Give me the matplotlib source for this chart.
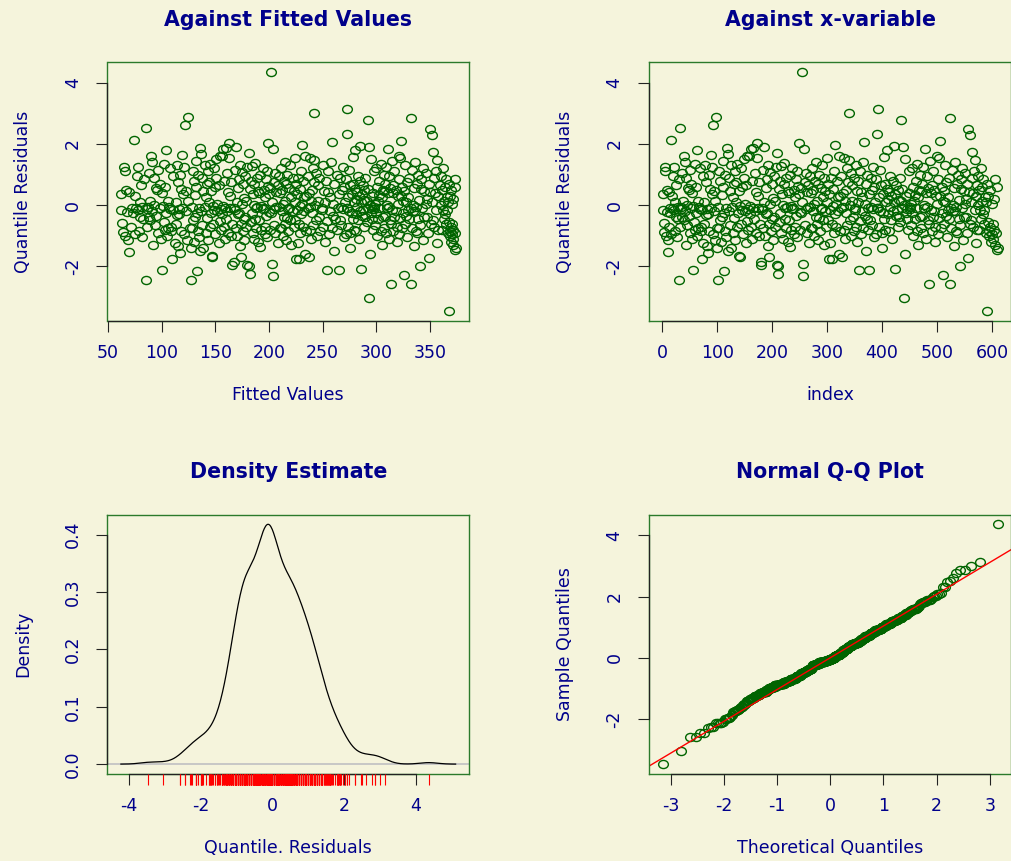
import matplotlib
matplotlib.use("Agg")
import matplotlib.pyplot as plt
import matplotlib.transforms as mtransforms
import numpy as np
from matplotlib.path import Path
from statistics import NormalDist

plt.rcParams["font.family"] = "DejaVu Sans"
plt.rcParams["axes.unicode_minus"] = False

BG = "#f5f4dc"
NAVY = "#00008b"
GREEN = "#006400"
BOX = "#2b7a2b"
TICK = "#222222"

# normalized quantile residuals, in observation order
resid = np.array([
    0.37, -0.15, -0.58, -0.89, 1.26, 1.12, -1.02, 0.48, -0.22, -1.13,
    -1.53, 0.42, -0.72, -0.08, -0.25, 2.13, -0.95, 0.30, -0.10, 0.95,
    -0.15, 1.25, -0.85, 0.10, -0.40, 0.65, -1.05, -0.06, -0.45, 0.85,
    -2.44, 2.51, -0.70, -0.12, -0.05, 1.05, -0.38, 0.12, -0.50, 1.60,
    -0.20, 1.40, -1.30, 0.90, 0.00, -0.65, 0.55, -0.35, 0.50, -0.90,
    1.15, -0.10, 0.70, -1.10, 0.38, -2.13, -0.02, -0.55, 1.35, -0.80,
    0.60, -0.25, 1.80, -1.00, 0.15, -0.75, -0.06, -0.12, 1.20, -0.85,
    -0.70, -1.76, -0.15, 0.95, -1.25, 0.10, -0.60, 1.30, -0.32, 0.75,
    -1.35, -0.14, -0.30, -1.55, 1.00, -0.85, 0.52, 1.65, -0.08, 0.35,
    1.25, -0.95, 2.60, -0.20, 0.45, -1.15, 0.12, 2.87, -0.75, -1.40,
    -2.44, -0.06, -0.75, 1.10, -0.48, 0.80, -1.20, 0.32, -0.40, 1.45,
    0.60, -2.14, -0.25, 1.00, -0.85, -0.10, -1.05, 1.85, -1.50, 1.66,
    -0.20, 0.90, -0.65, 0.46, -1.40, 1.30, -0.05, 0.28, -0.90, 0.70,
    -0.42, 1.10, -1.15, 0.10, 0.75, -0.70, 1.35, -0.25, 0.45, -1.65,
    -1.68, -0.04, -0.60, 1.20, -0.15, 0.58, -0.95, 0.90, 1.50, -0.20,
    0.05, -1.25, 0.65, -0.52, 1.60, -0.12, -0.80, 1.62, -0.30, -0.02,
    1.83, -0.70, 0.80, -1.10, -0.10, 1.88, -0.45, 1.05, -0.20, 0.44,
    -0.90, 2.02, 1.55, -0.08, 0.30, -1.00, 0.75, -0.60, -1.95, -1.86,
    -0.08, -0.15, 1.15, -0.75, 1.89, 0.10, -1.00, 0.55, -0.28, 0.85,
    -0.25, 1.30, -1.35, -1.70, -0.60, 1.07, 0.05, -0.85, 0.70, -0.44,
    0.22, -1.15, 0.95, -0.40, 0.15, -0.70, 1.25, -1.97, 1.69, -2.00,
    -2.25, 0.52, -0.55, 0.80, -0.25, 1.29, -0.90, 0.35, 0.00, -1.10,
    0.70, 1.38, -0.46, -0.08, -0.75, 0.90, -0.05, 0.45, -1.20, 0.40,
    -0.50, 1.00, -1.38, -0.02, -0.80, -0.14, 1.20, -0.10, 0.50, -0.95,
    0.25, -0.70, 0.85, -0.36, 1.10, -1.05, 0.62, 2.02, 0.35, -0.22,
    -0.80, 0.55, -0.25, 4.36, 0.10, -1.92, -2.30, 1.83, -0.65, 0.75,
    -0.12, 1.05, -0.90, 0.44, -0.05, 0.65, -1.25, -0.06, 0.95, -0.75,
    0.38, -0.75, 1.20, -0.20, 0.50, -1.00, 0.05, 0.80, -0.40, 1.40,
    -0.60, 0.15, -1.15, 0.70, -0.42, 1.00, -0.85, -0.12, 0.56, -0.10,
    1.30, -0.50, 0.25, -1.30, 0.90, -0.20, 0.46, -0.70, 0.10, 1.55,
    -0.48, 0.70, -1.76, 0.35, -0.15, -1.25, 0.90, -0.60, -1.75, -0.04,
    0.52, -0.90, 1.10, -0.30, 1.97, 0.05, -0.70, 0.80, -0.20, 0.25,
    1.61, -1.59, 0.30, -0.85, 0.95, -0.10, -1.70, 0.38, -0.05, 1.53,
    -0.80, 0.15, -1.10, 0.48, -0.25, 1.20, -0.65, 0.75, 1.48, 3.00,
    0.00, -0.50, 1.05, -1.00, 0.12, 0.65, -0.38, 0.90, -0.85, -0.10,
    -0.15, 1.30, -0.70, 0.45, -1.20, 0.10, 0.80, -2.13, -0.52, 1.10,
    0.42, -0.95, 0.25, -0.20, 1.40, -0.75, 2.07, 0.05, -0.35, -1.51,
    0.70, -0.44, 1.00, -0.80, -0.08, -2.13, 0.36, -0.50, 0.90, -0.05,
    -0.65, 0.50, 1.25, -0.12, 0.60, -1.05, 0.10, 0.85, -0.95, 2.32,
    -0.10, -0.10, 3.13, -0.70, 0.25, 1.15, -0.20, 0.65, -0.90, -1.40,
    0.35, -0.25, 1.58, -0.46, 0.70, -0.80, 0.10, 0.54, 1.80, -0.30,
    0.20, -0.85, 0.44, -0.05, 0.95, -0.50, 0.30, -1.10, 0.80, -0.18,
    1.93, 0.10, -2.08, 0.36, -0.35, 0.65, -0.15, 0.48, -0.70, 0.18,
    -0.40, 0.90, -0.55, 0.15, 2.78, -0.10, 0.52, 1.89, -3.04, 0.00,
    -1.59, 1.50, -0.25, 0.30, -0.45, -0.12, -0.80, 0.40, 1.10, -0.05,
    -0.14, -0.65, 0.05, 1.20, -0.25, 0.60, -1.00, 0.15, -0.45, 0.34,
    0.80, -0.10, 1.35, -0.85, 0.25, -1.30, 0.50, -0.40, 1.00, -0.75,
    0.46, -0.35, 0.70, -0.90, 1.25, 0.00, -0.10, 1.83, 0.40, -1.10,
    -0.05, 0.95, -0.48, 0.55, -2.57, -0.60, 1.45, -0.15, 0.38, -0.85,
    0.65, -0.40, 1.10, -0.20, 0.50, -0.70, -1.19, 0.30, 0.05, 1.59,
    -0.95, 0.85, 1.53, -0.42, 0.30, 2.08, -0.75, 0.60, -0.25, 0.15,
    -2.27, 0.46, -0.60, 1.30, 0.10, -0.36, 0.75, -1.05, 0.25, -0.15,
    0.90, -0.45, -2.57, 2.86, -0.10, -0.75, 1.15, 0.00, -0.20, -1.33,
    0.55, -0.20, 1.40, -0.85, -0.06, 0.70, -0.90, 1.00, -0.44, 0.18,
    -0.65, -2.00, 0.52, 0.85, -0.08, 1.20, -1.15, 0.45, -0.38, 0.05,
    1.05, -0.40, 0.20, -0.90, 0.70, -1.73, 2.48, 0.44, -0.60, 2.30,
    0.10, -0.50, 1.75, 0.90, -0.70, 0.38, 1.10, -0.15, 1.48, -1.24,
    0.30, -0.80, 0.65, 0.00, 0.95, -0.80, 0.48, -0.15, 1.20, -0.45,
    0.15, 0.60, -0.30, 0.85, -0.60, -0.16, 0.25, -0.90, 0.10, 0.70,
    -3.47, -0.55, 0.30, -0.85, -1.00, 0.50, -0.70, -1.20, 0.05, -0.95,
    -0.60, -1.10, 0.20, -0.80, -1.30, 0.86, -0.90, 0.58, -1.46, -1.40,
])

# fitted values of the model, same order
fitted = np.array([
    62, 62, 63, 64, 65, 66, 66, 67, 68, 69,
    70, 70, 71, 72, 73, 74, 75, 75, 76, 77,
    78, 78, 79, 80, 80, 81, 82, 82, 83, 84,
    85, 85, 86, 86, 87, 88, 88, 89, 89, 90,
    91, 91, 92, 93, 93, 94, 95, 95, 96, 97,
    97, 98, 98, 99, 100, 100, 101, 102, 102, 103,
    103, 104, 104, 105, 106, 106, 107, 108, 108, 109,
    109, 110, 111, 111, 112, 113, 113, 114, 114, 115,
    115, 116, 116, 117, 117, 118, 118, 119, 119, 120,
    121, 121, 122, 123, 123, 124, 125, 125, 126, 127,
    127, 128, 128, 129, 129, 130, 130, 131, 131, 132,
    132, 133, 133, 134, 134, 135, 135, 136, 136, 137,
    137, 138, 138, 139, 139, 140, 140, 141, 141, 142,
    142, 143, 143, 144, 144, 145, 145, 146, 146, 147,
    147, 148, 148, 149, 149, 150, 150, 151, 151, 152,
    152, 153, 153, 154, 154, 155, 155, 156, 156, 157,
    157, 158, 158, 159, 159, 160, 160, 161, 161, 162,
    162, 163, 163, 164, 164, 165, 165, 166, 166, 167,
    167, 168, 168, 169, 169, 170, 170, 171, 171, 172,
    172, 173, 173, 174, 174, 175, 175, 176, 176, 177,
    177, 177, 178, 178, 179, 179, 180, 180, 181, 181,
    182, 182, 183, 183, 184, 184, 185, 185, 186, 186,
    186, 187, 187, 188, 188, 189, 189, 190, 190, 191,
    191, 192, 192, 193, 193, 194, 194, 195, 195, 196,
    196, 196, 197, 197, 198, 198, 199, 199, 200, 200,
    201, 201, 202, 202, 203, 203, 204, 204, 205, 205,
    205, 206, 206, 207, 207, 208, 208, 209, 209, 210,
    210, 211, 211, 212, 212, 213, 213, 214, 214, 215,
    215, 215, 216, 216, 217, 217, 218, 218, 219, 219,
    220, 220, 221, 221, 222, 222, 223, 223, 224, 224,
    224, 225, 225, 226, 226, 227, 227, 228, 228, 229,
    229, 229, 230, 230, 231, 231, 232, 232, 233, 233,
    234, 234, 235, 235, 236, 236, 237, 237, 238, 238,
    238, 239, 239, 240, 240, 241, 241, 242, 242, 242,
    243, 244, 244, 245, 246, 246, 247, 247, 248, 249,
    249, 250, 250, 251, 252, 252, 253, 254, 254, 255,
    255, 256, 257, 257, 258, 259, 259, 260, 260, 261,
    261, 262, 263, 263, 264, 265, 265, 266, 266, 267,
    267, 268, 269, 269, 270, 270, 271, 272, 272, 273,
    273, 273, 273, 274, 274, 275, 275, 276, 276, 276,
    277, 277, 278, 278, 278, 279, 279, 280, 280, 281,
    281, 281, 282, 282, 283, 283, 284, 284, 285, 285,
    285, 286, 286, 287, 287, 288, 288, 289, 289, 289,
    290, 290, 291, 291, 292, 292, 292, 293, 293, 294,
    294, 295, 295, 296, 296, 296, 297, 297, 298, 298,
    298, 299, 299, 300, 300, 301, 301, 302, 302, 303,
    303, 303, 304, 304, 305, 305, 306, 306, 307, 307,
    307, 308, 308, 309, 309, 310, 310, 311, 311, 312,
    312, 312, 313, 313, 314, 314, 315, 315, 316, 316,
    316, 317, 317, 318, 318, 319, 319, 320, 320, 321,
    321, 321, 322, 322, 323, 323, 324, 324, 325, 325,
    326, 326, 327, 327, 328, 328, 329, 329, 330, 330,
    331, 331, 332, 332, 332, 333, 333, 334, 334, 335,
    335, 336, 336, 337, 337, 338, 338, 339, 339, 340,
    341, 341, 342, 342, 343, 344, 344, 345, 345, 346,
    346, 347, 347, 348, 349, 349, 350, 350, 351, 352,
    352, 353, 353, 354, 354, 355, 356, 356, 357, 357,
    358, 358, 359, 360, 360, 361, 361, 362, 362, 363,
    363, 364, 364, 365, 365, 366, 366, 367, 367, 368,
    368, 368, 369, 369, 369, 370, 370, 370, 371, 371,
    371, 372, 372, 372, 372, 373, 373, 373, 373, 374,
], dtype=float)

index = np.arange(1, len(resid) + 1)
n = len(resid)

# open circle marker, a bit wider than tall
_circ = Path.unit_circle()
ring = Path(_circ.vertices * [1.2, 1.0], _circ.codes)


def rlim(v):
    lo, hi = np.min(v), np.max(v)
    d = 0.04 * (hi - lo)
    return lo - d, hi + d


def decorate(ax, title, xlabel, ylabel, xticks, yticks, ylabels=None):
    ax.set_facecolor(BG)
    for sp in ax.spines.values():
        sp.set_color(BOX)
        sp.set_linewidth(1.0)
    ax.set_xticks(xticks)
    ax.set_yticks(yticks)
    if ylabels is not None:
        ax.set_yticklabels(ylabels)
    ax.tick_params(length=8, width=0.8, color=TICK, labelcolor=NAVY, labelsize=12.5)
    ax.tick_params(axis="x", pad=8.5)
    ax.tick_params(axis="y", pad=10.5, labelrotation=90)
    for lab in ax.get_yticklabels():
        lab.set_va("center")
    ax.text(0.5, 1.14, title, transform=ax.transAxes, ha="center", va="baseline",
            fontsize=14.8, fontweight="bold", color=NAVY)
    ax.set_xlabel(xlabel, color=NAVY, fontsize=12.5, va="baseline")
    ax.set_ylabel(ylabel, color=NAVY, fontsize=12.5, va="baseline")
    ax.xaxis.set_label_coords(0.5, -0.305)
    ax.yaxis.set_label_coords(-0.22, 0.5)
    # axis line between the outer ticks
    tx = mtransforms.blended_transform_factory(ax.transData, ax.transAxes)
    ty = mtransforms.blended_transform_factory(ax.transAxes, ax.transData)
    ax.plot([xticks[0], xticks[-1]], [0, 0], transform=tx, color=TICK, lw=0.9,
            clip_on=False, zorder=5)
    ax.plot([0, 0], [yticks[0], yticks[-1]], transform=ty, color=TICK, lw=0.9,
            clip_on=False, zorder=5)


fig = plt.figure(figsize=(10.12, 8.61), dpi=100, facecolor=BG)
W, H = 1012, 861
boxes = {
    "tl": [107.5 / W, 1 - 321 / H, 361.5 / W, 259 / H],
    "tr": [649.3 / W, 1 - 321 / H, 361.7 / W, 259 / H],
    "bl": [107.5 / W, 1 - 773.7 / H, 361.5 / W, 259 / H],
    "br": [649.3 / W, 1 - 773.7 / H, 361.7 / W, 259 / H],
}
mk = dict(ls="none", marker=ring, ms=7, mfc="none", mec=GREEN, mew=1.0)

# residuals against fitted values
ax = fig.add_axes(boxes["tl"])
ax.plot(fitted, resid, **mk)
decorate(ax, "Against Fitted Values", "Fitted Values", "Quantile Residuals",
         [50, 100, 150, 200, 250, 300, 350], [-2, 0, 2, 4])
ax.set_xlim(rlim(fitted))
ax.set_ylim(rlim(resid))

# residuals against index
ax = fig.add_axes(boxes["tr"])
ax.plot(index, resid, **mk)
decorate(ax, "Against x-variable", "index", "Quantile Residuals",
         [0, 100, 200, 300, 400, 500, 600], [-2, 0, 2, 4])
ax.set_xlim(rlim(index))
ax.set_ylim(rlim(resid))

# kernel density of the residuals
iqr = np.subtract(*np.percentile(resid, [75, 25]))
bw = 0.9 * min(resid.std(ddof=1), iqr / 1.34) * n ** -0.2
grid = np.linspace(resid.min() - 3 * bw, resid.max() + 3 * bw, 512)
dens = np.exp(-0.5 * ((grid[:, None] - resid[None, :]) / bw) ** 2).sum(axis=1)
dens /= n * bw * np.sqrt(2 * np.pi)

ax = fig.add_axes(boxes["bl"])
ax.axhline(0, color="#c4c4c4", lw=1.3, zorder=1)
ax.plot(grid, dens, color="black", lw=0.9, zorder=2)
decorate(ax, "Density Estimate", "Quantile. Residuals", "Density",
         [-4, -2, 0, 2, 4], [0.0, 0.1, 0.2, 0.3, 0.4],
         ["0.0", "0.1", "0.2", "0.3", "0.4"])
rug_t = mtransforms.blended_transform_factory(ax.transData, ax.transAxes)
ax.vlines(resid, 0, -11 / 259, transform=rug_t, color="red", lw=0.8,
          clip_on=False, zorder=6)
ax.set_xlim(rlim(grid))
ax.set_ylim(rlim([0, dens.max()]))

# normal Q-Q plot
nd = NormalDist()
theo = np.array([nd.inv_cdf((i - 0.5) / n) for i in range(1, n + 1)])
samp = np.sort(resid)
q1, q3 = np.percentile(resid, [25, 75])
z1, z3 = nd.inv_cdf(0.25), nd.inv_cdf(0.75)
slope = (q3 - q1) / (z3 - z1)
icpt = q1 - slope * z1

ax = fig.add_axes(boxes["br"])
ax.plot(theo, samp, **mk)
ax.axline((0, icpt), slope=slope, color="red", lw=1.0)
decorate(ax, "Normal Q-Q Plot", "Theoretical Quantiles", "Sample Quantiles",
         [-3, -2, -1, 0, 1, 2, 3], [-2, 0, 2, 4])
ax.set_xlim(rlim(theo))
ax.set_ylim(rlim(samp))

fig.savefig("out.png", dpi=100, facecolor=BG)
